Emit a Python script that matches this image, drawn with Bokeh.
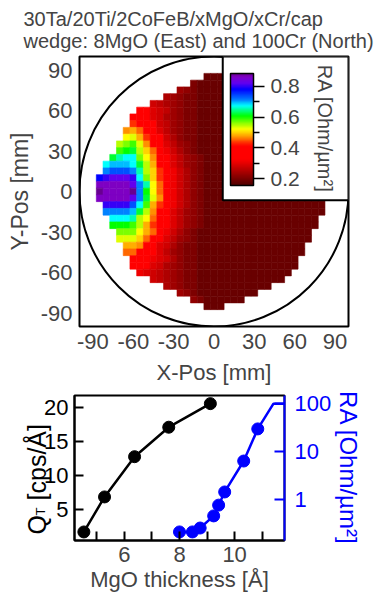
import numpy as np
from bokeh.plotting import figure
from bokeh.layouts import row
from bokeh.models import (ColumnDataSource, LinearColorMapper, ColorBar, FixedTicker,
                          Range1d, LogScale, LogAxis, Label, NumeralTickFormatter)
from bokeh.core.properties import value
from bokeh.transform import linear_cmap
from bokeh.embed import file_html
from bokeh.resources import INLINE

FONT = "Liberation Sans"
BLUE = "#0000ff"

# ------------------------------------------------------------------ data
title_text = "30Ta/20Ti/2CoFeB/xMgO/xCr/cap\nwedge: 8MgO (East) and 100Cr (North)"

pos_ticks = [-90, -60, -30, 0, 30, 60, 90]
pos_tick_labels = ["-90", "-60", "-30", "0", "30", "60", "90"]

# wafer map: one row per Y position, first X of the row, one code per 5 mm cell
row_y = [85, 80, 75, 70, 65, 60, 55, 50, 45, 40, 35, 30, 25, 20, 15, 10, 5, 0,
         -5, -10, -15, -20, -25, -30, -35, -40, -45, -50, -55, -60, -65, -70, -75, -80, -85]
row_x0 = [-5, -15, -25, -35, -45, -55, -60, -60, -65, -65, -70, -70, -75, -80, -80, -85, -85, -85,
          -85, -80, -80, -75, -75, -70, -70, -65, -65, -60, -60, -55, -45, -35, -25, -15, -5]
row_codes = [
    "aaa",
    "baaaaaaa",
    "dcba" "aaaaaaaa",
    "edcbba" "aaaaa" "aaaaa",
    "gfedcbba" "aaaaaa" "aaaaaa",
    "jjhgfdcbba" "aaaaaa" "aaaaaaa",
    "jjjhgedcbba" "aaaaaaa" "aaaaaaa",
    "kjjjgfdcbba" "aaaaaaa" "aaaaaaa",
    "mnljjhfdcbba" "aaaaa" "aaaaa" "aaaaa",
    "pqnkjjgecbba" "aaaaa" "aaaaa" "aaaaa",
    "rstqmjjhfdcba" "aaaaaaaa" "aaaaaaaa",
    "tuvroljigecba" "aaaaaaaa" "aaaaaaaa",
    "vwxxspmjjhfdcb" "aaaaaa" "aaaaaa" "aaaaa",
    "xyyyxvrnjjhfdcb" "aaaaaa" "aaaaaa" "aaaaa",
    "zAAAzwrokjigecb" "aaaaaa" "aaaaaa" "aaaaaa",
    "BCDDDCxsokjigecb" "aaaaaa" "aaaaaa" "aaaaaa",
    "EEEEEDzwpljigecb" "aaaaaa" "aaaaaa" "aaaaaa",
    "FEEEEFzupljigecb" "aaaaaa" "aaaaaa" "aaaaaa",
    "EEEEEDzvqmjigecb" "aaaaaa" "aaaaaa" "aaaaaa",
    "CCCCAxtnkjigecb" "aaaaaa" "aaaaaa" "aaaaaa",
    "zzzzyvrmjjhfdcb" "aaaaaa" "aaaaaa" "aaaaaa",
    "xxxwrpljjhfdcb" "aaaaaa" "aaaaaa" "aaaaa",
    "uuutrnkjjhfdcb" "aaaaaa" "aaaaaa" "aaaaa",
    "ssspnljigecba" "aaaaaaaa" "aaaaaaaa",
    "qqqoljjhfdcba" "aaaaaaaa" "aaaaaaaa",
    "nnmjjhgecbba" "aaaaa" "aaaaa" "aaaaa",
    "lljjjhfdcbba" "aaaaa" "aaaaa" "aaaaa",
    "jjjihgecbba" "aaaaaaa" "aaaaaaa",
    "jjjhgedcbba" "aaaaaaa" "aaaaaaa",
    "ihgfedcbba" "aaaaaa" "aaaaaaa",
    "gfedcbba" "aaaaaa" "aaaaaa",
    "edcbba" "aaaaa" "aaaaa",
    "dcba" "aaaaaaaa",
    "cbaaaaaa",
    "aaa",
]
# RA value [Ohm/um^2] of each code
code_keys = "abcdefghijklmnopqrstuvwxyzABCDEF"
code_ra = [0.183, 0.205, 0.22, 0.235, 0.25, 0.265, 0.28, 0.295, 0.31, 0.37,
           0.436, 0.455, 0.47, 0.485, 0.50, 0.522, 0.532, 0.545, 0.565, 0.585,
           0.607, 0.62, 0.655, 0.675, 0.693, 0.712, 0.736, 0.78, 0.80, 0.82,
           0.86, 0.88]

cb_ticks = [0.2, 0.4, 0.6, 0.8]
cb_minor = [0.3, 0.5, 0.7]
ra_low, ra_high = 0.157, 0.882

# bottom panel
qt_thick = [4.53, 5.28, 6.37, 7.61, 9.12]
qt_rate = [1.64, 6.81, 12.75, 17.1, 20.58]
ra_thick = [8.00, 8.47, 8.75, 9.24, 9.42, 9.64, 10.33, 10.84, 11.41, 12.0]
ra_value = [0.207, 0.207, 0.25, 0.448, 0.753, 1.42, 6.3, 29.6, 100, 100]
n_ra_markers = 8
mgo_ticks = [6, 8, 10]
mgo_minor = [5, 7, 9, 11]
qt_ticks = [5, 10, 15, 20]
qt_tick_labels = ["5", "10", "15", "20"]
ra_ticks = [1, 10, 100]

# ------------------------------------------------------------------ palette (style)
stops = [(0.157, "#500000"), (0.19, "#700000"), (0.22, "#900000"), (0.25, "#b00000"),
         (0.28, "#d00000"), (0.31, "#f00000"), (0.33, "#ff0000"), (0.41, "#ff0000"),
         (0.436, "#ff3000"), (0.47, "#ff9000"), (0.50, "#ffd000"), (0.522, "#ffff00"),
         (0.565, "#80ff00"), (0.607, "#00ff00"), (0.655, "#00ffb0"), (0.675, "#00ffff"),
         (0.712, "#0080ff"), (0.78, "#0000ff"), (0.82, "#6000f0"), (0.86, "#8000c8"),
         (0.882, "#680090")]
sv = np.array([s[0] for s in stops])
rgb = np.array([[int(c[i:i + 2], 16) for i in (1, 3, 5)] for _, c in stops], dtype=float)
grid = np.linspace(ra_low, ra_high, 256)
palette = []
for g in grid:
    r, gg, b = (np.interp(g, sv, rgb[:, k]) for k in range(3))
    palette.append("#%02x%02x%02x" % (int(round(r)), int(round(gg)), int(round(b))))

# ------------------------------------------------------------------ heat map cells
lvl = dict(zip(code_keys, code_ra))
cx, cy, cv = [], [], []
for y0, x0, codes in zip(row_y, row_x0, row_codes):
    for k, ch in enumerate(codes):
        cx.append(x0 + 5 * k)
        cy.append(y0)
        cv.append(lvl[ch])
src = ColumnDataSource(dict(x=cx, y=cy, ra=cv))

# ------------------------------------------------------------------ top figure
p = figure(width=374, height=392, x_range=Range1d(-100, 100), y_range=Range1d(-100, 100),
           output_backend="svg", toolbar_location=None,
           min_border_left=79, min_border_right=26, min_border_top=56, min_border_bottom=66)
p.title.text = title_text
p.title.align = "left"
p.title.offset = -56
p.title.text_font = FONT
p.title.text_font_size = "20px"
p.title.text_font_style = "normal"
p.outline_line_color = "black"
p.outline_line_width = 2
p.grid.visible = False

cmap = linear_cmap("ra", palette, ra_low, ra_high)
p.rect(x="x", y="y", width=5, height=5, source=src, fill_color=cmap, line_color=cmap,
       line_width=0.6)
p.ellipse(x=[0], y=[0], width=[200], height=[200], fill_color=None, line_color="black",
          line_width=2)
p.quad(left=[6.5], right=[100], bottom=[-6.5], top=[100], fill_color="white",
       line_color="black", line_width=2)

mapper = LinearColorMapper(palette=palette, low=ra_low, high=ra_high)
cb = ColorBar(color_mapper=mapper, ticker=FixedTicker(ticks=cb_ticks, minor_ticks=cb_minor),
              width=23, height=112, padding=0, location=(151, 141),
              background_fill_color=None, border_line_color=None,
              bar_line_color="black", bar_line_width=1.5,
              major_tick_line_color="black", major_tick_in=0, major_tick_out=11,
              major_tick_line_width=1.5,
              minor_tick_line_color="black", minor_tick_in=0, minor_tick_out=6,
              minor_tick_line_width=1.5,
              major_label_text_font=FONT, major_label_text_font_size="21px",
              label_standoff=6)
p.add_layout(cb, "center")
p.add_layout(Label(x=82.5, y=46.5, text="RA [Ohm/µm²]", angle=-90, angle_units="deg",
                   text_align="center", text_baseline="middle", text_font=FONT,
                   text_font_size="20px"))

for ax, lab in ((p.xaxis[0], "X-Pos [mm]"), (p.yaxis[0], "Y-Pos [mm]")):
    ax.ticker = FixedTicker(ticks=pos_ticks)
    ax.major_label_overrides = dict(zip(pos_ticks, pos_tick_labels))
    ax.major_tick_in = 0
    ax.major_tick_out = 0
    ax.minor_tick_line_color = None
    ax.major_tick_line_color = None
    ax.axis_line_color = None
    ax.axis_label = lab
    ax.axis_label_text_font = FONT
    ax.axis_label_text_font_style = "normal"
    ax.major_label_text_font = FONT
    ax.major_label_text_font_size = "22px"
p.xaxis.axis_label_text_font_size = "22px"
p.yaxis.axis_label_text_font_size = "23px"
p.xaxis.major_label_standoff = 7
p.yaxis.major_label_standoff = 7
p.xaxis.axis_label_standoff = 8
p.yaxis.axis_label_standoff = 5

# ------------------------------------------------------------------ bottom figure
LABEL_W = 72              # strip left of the chart: Q_T title and its tick labels
X0, X1, Y0, Y1 = 4.19, 11.81, 0.38, 21.78
qt_range = Range1d(Y0, Y1)
p2 = figure(width=374 - LABEL_W, height=202, x_range=Range1d(X0, X1), y_range=qt_range,
            output_backend="svg", toolbar_location=None,
            min_border_left=74 - LABEL_W, min_border_right=90, min_border_top=3,
            min_border_bottom=51)
p2.outline_line_color = "black"
p2.outline_line_width = 2
p2.grid.visible = False
p2.extra_y_ranges = {"ra": Range1d(0.137, 148)}
p2.extra_y_scales = {"ra": LogScale()}

p2.line(qt_thick, qt_rate, color="black", line_width=2.5)
p2.scatter(qt_thick, qt_rate, size=12, color="black")
p2.line(ra_thick, ra_value, color=BLUE, line_width=2.5, y_range_name="ra")
p2.scatter(ra_thick[:n_ra_markers], ra_value[:n_ra_markers], size=12, color=BLUE,
           y_range_name="ra")

xa = p2.xaxis[0]
xa.ticker = FixedTicker(ticks=mgo_ticks, minor_ticks=mgo_minor)
xa.axis_label = "MgO thickness [Å]"
xa.major_label_text_font = FONT
xa.major_label_text_font_size = "22px"
xa.major_label_standoff = 6
xa.axis_label_text_font = FONT
xa.axis_label_text_font_style = "normal"
xa.axis_label_text_font_size = "22px"
xa.axis_label_standoff = 2

# left axis: tick marks only (drawn as minor ticks); its labels sit in the strip
ya = p2.yaxis[0]
ya.ticker = FixedTicker(ticks=[], minor_ticks=qt_ticks)
ya.major_label_standoff = 0
for ax in (xa, ya):
    ax.major_tick_in = 9
    ax.major_tick_out = 0
    ax.minor_tick_in = 9
    ax.minor_tick_out = 0
    ax.major_tick_line_width = 2
    ax.minor_tick_line_width = 2
    ax.minor_tick_line_color = "black"
    ax.axis_line_width = 2

ra_ax = LogAxis(y_range_name="ra", ticker=FixedTicker(ticks=ra_ticks),
                formatter=NumeralTickFormatter(format="0"),
                axis_label="RA [Ohm/µm²]", axis_line_color=BLUE, axis_line_width=2,
                major_tick_line_color=BLUE, major_tick_line_width=2, major_tick_in=10,
                major_tick_out=0, minor_tick_line_color=None,
                major_label_text_color=BLUE, major_label_text_font=FONT,
                major_label_text_font_size="22px", major_label_standoff=10,
                axis_label_text_color=BLUE, axis_label_text_font=FONT,
                axis_label_text_font_style="normal", axis_label_text_font_size="24px",
                axis_label_standoff=1)
p2.add_layout(ra_ax, "right")

# strip: x in pixels, y shares the Q_T range of the chart
FB = 151                  # frame bottom, figure pixels
sy = (Y1 - Y0) / 148.0


def dy(py):
    return Y0 + (FB - py) * sy


pq = figure(width=LABEL_W, height=202, x_range=Range1d(0, LABEL_W), y_range=qt_range,
            output_backend="svg", toolbar_location=None, x_axis_location=None,
            y_axis_location=None, min_border_left=0, min_border_right=0,
            min_border_top=3, min_border_bottom=51)
pq.outline_line_color = None
pq.grid.visible = False

TICK_X = 68
pq.text(x=[TICK_X] * len(qt_ticks), y=qt_ticks, text=qt_tick_labels, text_align="right",
        text_baseline="middle", text_font=value(FONT), text_font_size=value("22px"),
        text_color="black")

F = 25
FS = 13
BASE = 36
qy = 145                  # start of the title (figure pixels from top)
ty = qy - 0.778 * F
ry = ty - 0.611 * FS - 0.3 * F
pq.text(x=[BASE], y=[dy(qy)], text=["Q"], angle=90, angle_units="deg",
        text_align="left", text_baseline="alphabetic", text_font=value(FONT),
        text_font_size=value(f"{F}px"), text_color="black")
pq.text(x=[BASE + 4], y=[dy(ty)], text=["T"], angle=90, angle_units="deg",
        text_align="left", text_baseline="alphabetic", text_font=value(FONT),
        text_font_size=value(f"{FS}px"), text_color="black")
pq.text(x=[BASE], y=[dy(ry)], text=["[cps/Å]"], angle=90, angle_units="deg",
        text_align="left", text_baseline="alphabetic", text_font=value(FONT),
        text_font_size=value(f"{F}px"), text_color="black")

bottom = row(pq, p2, spacing=0)
open("out.html", "w").write(file_html([p, bottom], INLINE))
